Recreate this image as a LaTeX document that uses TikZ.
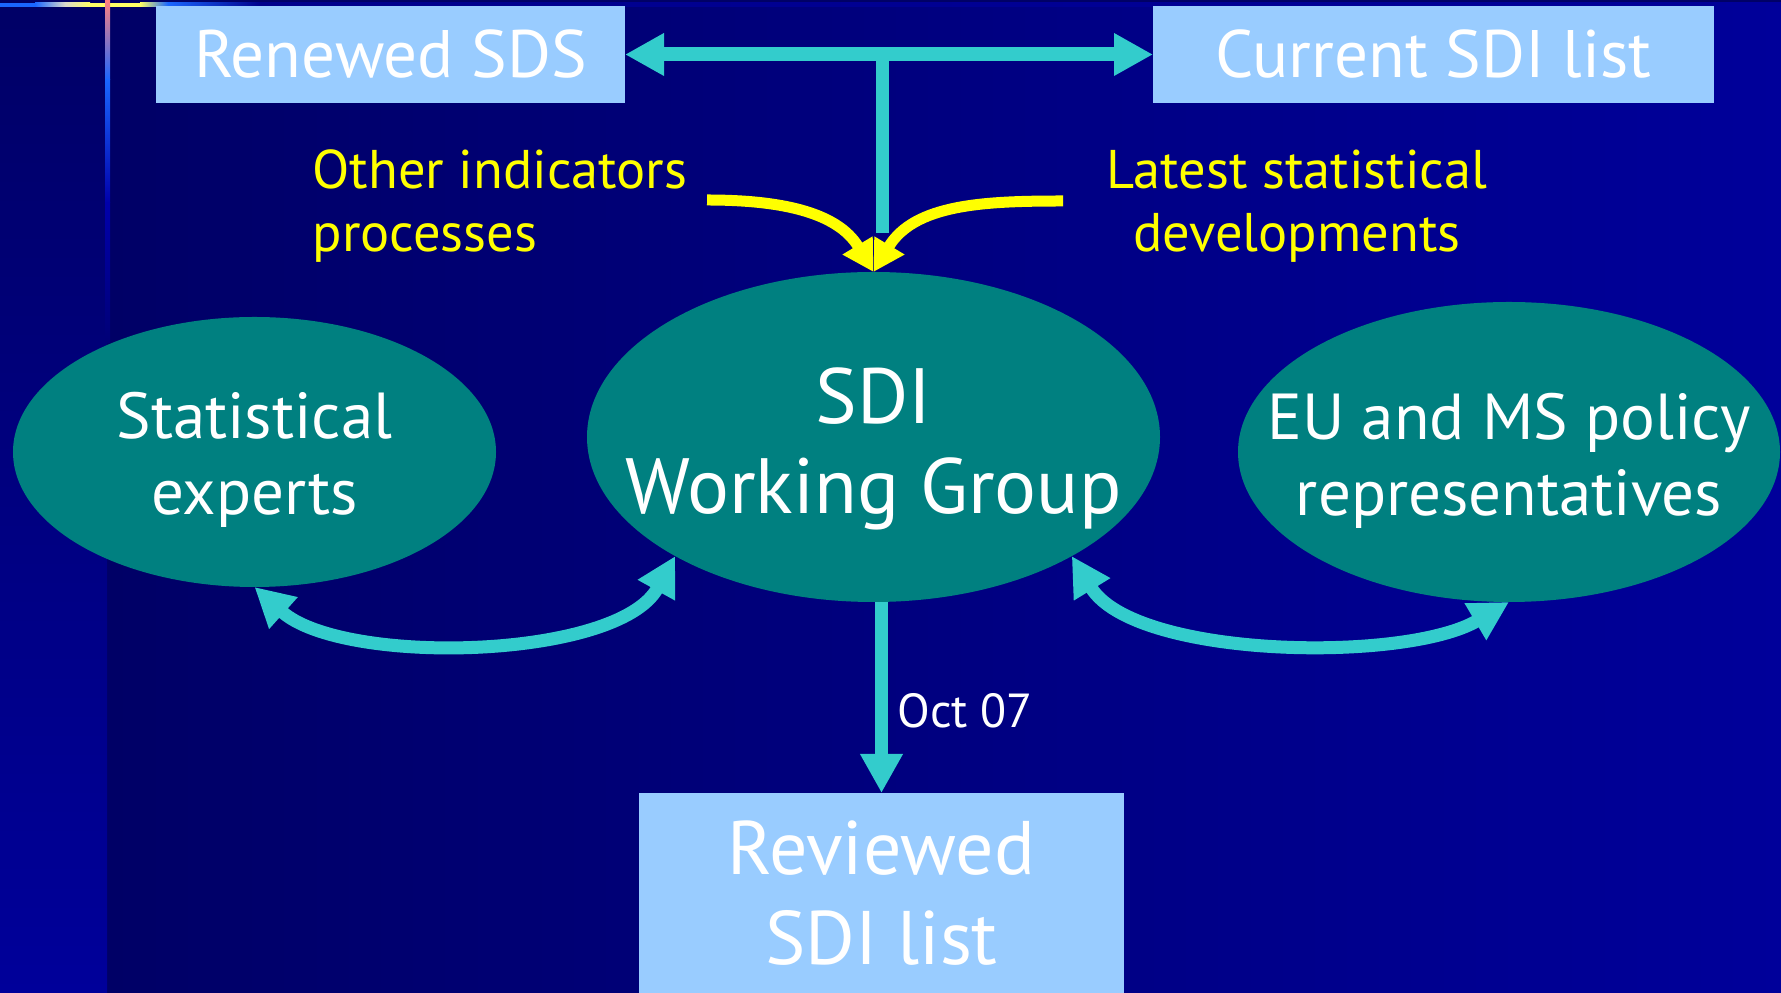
\documentclass[tikz,border=0pt]{standalone}
\usepackage{fontspec}
\setmainfont{PT Sans}
\usetikzlibrary{shapes.geometric, arrows.meta}
\definecolor{navyA}{HTML}{000066}
\definecolor{navyB}{HTML}{00009A}
\definecolor{teal0}{HTML}{008080}
\definecolor{paleblue}{HTML}{99CCFF}
\definecolor{aqua}{HTML}{33CCCC}
\definecolor{yel}{HTML}{FFFF00}
\definecolor{barblue}{HTML}{1A66FF}
\definecolor{barwhite}{HTML}{D9D9CC}
\definecolor{baryellow}{HTML}{FFFF66}
\definecolor{barpink}{HTML}{FF8080}
\tikzset{
  listbox/.style={rectangle, fill=paleblue, text=white, inner sep=0pt, outer sep=0pt, align=center},
  blob/.style={ellipse, fill=teal0, inner sep=0pt, outer sep=0pt},
  blobtext/.style={text=white, align=center, inner sep=0pt, font=\fontsize{18.5}{21.8}\selectfont},
  flow/.style={draw=aqua, line width=0.13cm, >={Triangle[length=0.39cm, width=0.40cm]}},
  feed/.style={draw=yel, line width=0.11cm, -{Triangle[length=0.31cm, width=0.33cm]}},
  ytext/.style={text=yel, inner sep=0pt, font=\fontsize{15.5}{17.9}\selectfont}
}
\begin{document}
\begin{tikzpicture}
    \useasboundingbox (0, 0) rectangle (17.81, 9.93);
    % background
    \shade[left color=navyA, right color=navyB] (1.07, 0) rectangle (17.81, 9.93);
    \shade[top color=navyA, bottom color=navyB] (0, 0) rectangle (1.07, 9.93);
    \fill[navyA] (0, 9.90) rectangle (17.81, 9.93);
    \fill[barblue] (0, 9.86) rectangle (0.35, 9.90);
    \shade[left color=barblue, right color=barwhite] (0.35, 9.86) rectangle (0.65, 9.90);
    \shade[left color=barwhite, right color=baryellow] (0.65, 9.86) rectangle (0.90, 9.90);
    \fill[baryellow] (0.90, 9.86) rectangle (1.40, 9.90);
    \shade[left color=baryellow, right color=barblue] (1.40, 9.86) rectangle (1.68, 9.90);
    \shade[left color=barblue, right color=blue!55!black] (1.68, 9.86) rectangle (2.60, 9.90);
    \shade[left color=blue!55!black, right color=navyB] (2.60, 9.86) rectangle (17.81, 9.90);
    \shade[top color=barpink, bottom color=barblue] (1.05, 9.93) rectangle (1.10, 9.13);
    \shade[top color=barblue, bottom color=blue!67!black] (1.05, 9.13) rectangle (1.10, 7.90);
    \shade[top color=blue!67!black, bottom color=navyA!70!navyB] (1.05, 7.90) rectangle (1.10, 6.50);

    % boxes and groups
    \node[listbox, minimum width=4.69cm, minimum height=0.97cm, font=\fontsize{19.1}{22}\selectfont] (renewed) at (3.905, 9.385) {Renewed SDS};
    \node[listbox, minimum width=5.61cm, minimum height=0.97cm, font=\fontsize{19.1}{22}\selectfont] (current) at (14.335, 9.385) {Current SDI list};
    \node[listbox, minimum width=4.85cm, minimum height=2.00cm, font=\fontsize{21.6}{25.6}\selectfont] (reviewed) at (8.815, 1.00) {Reviewed\\SDI list};
    \node[blob, minimum width=4.83cm, minimum height=2.70cm,
        label={[blobtext, yshift=-0.08cm]center:{Statistical\\experts}}] (stat) at (2.545, 5.41) {};
    \node[blob, minimum width=5.73cm, minimum height=3.30cm,
        label={[blobtext, yshift=-0.12cm, font=\fontsize{22.3}{25.6}\selectfont]center:{SDI\\Working Group}}] (wg) at (8.735, 5.56) {};
    \node[blob, minimum width=5.42cm, minimum height=3.00cm,
        label={[blobtext, yshift=-0.09cm]center:{EU and MS policy\\representatives}}] (eu) at (15.09, 5.41) {};

    % inputs
    \node[ytext, anchor=north west, align=left] (other) at (3.12, 8.44) {Other indicators\\processes};
    \node[ytext, anchor=north, align=center] (latest) at (12.97, 8.44) {Latest statistical\\developments};
    \coordinate (otherend) at (7.07, 7.93);
    \coordinate (latestend) at (10.63, 7.92);
    \draw[feed] (otherend) to [out=0, in=121] (wg.north);
    \draw[feed] (latestend) to [out=180, in=59] (wg.north);

    % links
    \coordinate (stemend) at (8.82, 7.60);
    \draw[flow, line width=0.14cm, <->] (renewed.east) -- (current.west);
    \draw[flow] (renewed.east -| stemend) -- (stemend);
    \draw[flow, <->] (stat.south) to [out=-42, in=-119, looseness=0.72] (wg.211);
    \draw[flow, <->] (wg.329) to [out=-58.5, in=-149.5, looseness=0.7] (eu.south);
    \draw[flow, ->] (wg.south -| reviewed.north) -- (reviewed.north);
    \node[text=white, inner sep=0pt, anchor=base west, font=\fontsize{13.6}{15}\selectfont] (oct) at (8.97, 2.65) {Oct 07};
\end{tikzpicture}
\end{document}
